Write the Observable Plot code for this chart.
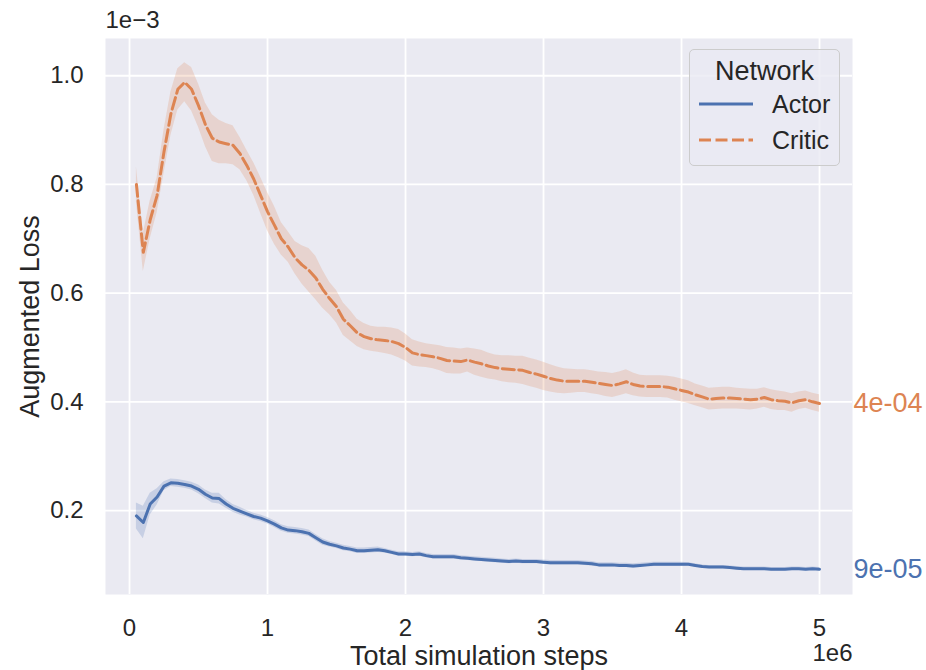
<!DOCTYPE html>
<html>
<head>
<meta charset="utf-8">
<script src="https://cdn.jsdelivr.net/npm/d3@7"></script>
<script src="https://cdn.jsdelivr.net/npm/@observablehq/plot@0.6"></script>
<style>
  body { margin: 0; background: #fff; }
  #wrap { position: relative; width: 926px; height: 670px; overflow: hidden; font-family: "Liberation Sans", Arial, sans-serif; }
  #legend { position: absolute; left: 689px; top: 49px; width: 149px; height: 115px;
    background: rgba(234,234,242,0.8); border: 1px solid #cccccc; border-radius: 5px; color: #262626; }
  #legend .title { text-align: center; font-size: 27px; line-height: 30px; margin-top: 6px; }
  #legend .row { display: flex; align-items: center; height: 36px; font-size: 25px; }
  #legend .row:first-of-type { margin-top: 3px; }
  #legend .row svg { margin-left: 8px; margin-right: 18px; }
</style>
</head>
<body>
<div id="wrap"><div id="chart"></div><div id="legend"></div></div>
<script>
// x in units of 1e6 simulation steps
const steps = [0.05,0.10,0.15,0.20,0.25,0.30,0.35,0.40,0.45,0.50,0.55,0.60,0.65,0.70,0.75,0.80,0.85,0.90,0.95,1.00,
  1.05,1.10,1.15,1.20,1.25,1.30,1.35,1.40,1.45,1.50,1.55,1.60,1.65,1.70,1.75,1.80,1.85,1.90,1.95,2.00,
  2.05,2.10,2.15,2.20,2.25,2.30,2.35,2.40,2.45,2.50,2.55,2.60,2.65,2.70,2.75,2.80,2.85,2.90,2.95,3.00,
  3.05,3.10,3.15,3.20,3.25,3.30,3.35,3.40,3.45,3.50,3.55,3.60,3.65,3.70,3.75,3.80,3.85,3.90,3.95,4.00,
  4.05,4.10,4.15,4.20,4.25,4.30,4.35,4.40,4.45,4.50,4.55,4.60,4.65,4.70,4.75,4.80,4.85,4.90,4.95,5.00];

// loss in units of 1e-3
const critic = [0.800,0.675,0.735,0.780,0.860,0.930,0.975,0.988,0.975,0.945,0.910,0.885,0.878,0.875,0.872,0.857,0.835,0.810,0.780,0.750,
  0.725,0.700,0.685,0.665,0.652,0.642,0.628,0.607,0.590,0.575,0.552,0.540,0.527,0.520,0.516,0.514,0.513,0.511,0.507,0.500,
  0.490,0.487,0.485,0.483,0.480,0.476,0.475,0.474,0.477,0.473,0.470,0.466,0.463,0.461,0.460,0.459,0.458,0.454,0.451,0.447,
  0.443,0.440,0.438,0.438,0.438,0.438,0.436,0.434,0.432,0.430,0.433,0.437,0.432,0.429,0.428,0.428,0.428,0.427,0.424,0.421,
  0.418,0.413,0.409,0.405,0.406,0.407,0.407,0.406,0.405,0.404,0.405,0.408,0.404,0.402,0.401,0.398,0.402,0.404,0.400,0.397];
const criticCI = [0.032,0.035,0.035,0.032,0.040,0.040,0.038,0.036,0.040,0.040,0.040,0.043,0.040,0.037,0.036,0.030,0.028,0.030,0.033,0.035,
  0.035,0.030,0.028,0.030,0.035,0.040,0.040,0.035,0.030,0.030,0.030,0.028,0.025,0.024,0.023,0.023,0.024,0.025,0.026,0.025,
  0.024,0.023,0.022,0.022,0.023,0.024,0.024,0.023,0.022,0.024,0.025,0.024,0.023,0.024,0.025,0.025,0.026,0.026,0.026,0.026,
  0.025,0.024,0.023,0.022,0.021,0.021,0.021,0.021,0.022,0.022,0.022,0.022,0.021,0.020,0.020,0.020,0.020,0.020,0.021,0.021,
  0.021,0.020,0.020,0.020,0.020,0.020,0.020,0.019,0.019,0.019,0.018,0.018,0.018,0.018,0.017,0.017,0.016,0.016,0.016,0.016];
const actor = [0.190,0.178,0.212,0.225,0.245,0.251,0.250,0.248,0.245,0.239,0.230,0.223,0.222,0.212,0.204,0.199,0.194,0.189,0.186,0.181,
  0.175,0.168,0.164,0.163,0.161,0.158,0.150,0.142,0.138,0.135,0.131,0.129,0.126,0.126,0.127,0.128,0.126,0.123,0.120,0.120,
  0.119,0.120,0.117,0.115,0.115,0.115,0.115,0.113,0.112,0.111,0.110,0.109,0.108,0.107,0.106,0.107,0.106,0.106,0.106,0.105,
  0.104,0.104,0.104,0.104,0.104,0.103,0.102,0.100,0.100,0.100,0.099,0.099,0.098,0.099,0.100,0.101,0.101,0.101,0.101,0.101,
  0.101,0.099,0.097,0.096,0.096,0.096,0.095,0.094,0.093,0.093,0.093,0.093,0.092,0.092,0.092,0.093,0.093,0.092,0.093,0.092];
const actorCI = [0.024,0.030,0.020,0.015,0.008,0.007,0.007,0.007,0.007,0.008,0.008,0.009,0.010,0.008,0.007,0.007,0.006,0.006,0.006,0.006,
  0.006,0.006,0.006,0.006,0.006,0.006,0.006,0.006,0.005,0.005,0.005,0.005,0.005,0.005,0.005,0.005,0.004,0.004,0.004,0.004,
  0.004,0.004,0.004,0.004,0.004,0.004,0.004,0.004,0.004,0.004,0.004,0.004,0.004,0.004,0.004,0.004,0.004,0.004,0.004,0.004,
  0.004,0.004,0.004,0.004,0.004,0.004,0.004,0.004,0.004,0.004,0.004,0.004,0.004,0.004,0.004,0.004,0.004,0.004,0.004,0.004,
  0.003,0.003,0.003,0.003,0.003,0.003,0.003,0.003,0.003,0.003,0.003,0.003,0.003,0.003,0.003,0.003,0.003,0.003,0.003,0.003];

const seriesNames = ["Actor", "Critic"];
const seriesColors = ["#4C72B0", "#DD8452"];
const endLabels = ["9e-05", "4e-04"];
const xTicks = [0, 1, 2, 3, 4, 5];
const yTicks = [0.2, 0.4, 0.6, 0.8, 1.0];
const xTitle = "Total simulation steps";
const yTitle = "Augmented Loss";
const xOffsetText = "1e6";
const yOffsetText = "1e\u22123";

const rows = [];
steps.forEach((s, i) => {
  rows.push({x: s, y: actor[i], lo: actor[i] - actorCI[i], hi: actor[i] + actorCI[i], net: "Actor"});
  rows.push({x: s, y: critic[i], lo: critic[i] - criticCI[i], hi: critic[i] + criticCI[i], net: "Critic"});
});
const ends = [
  {x: steps[steps.length - 1], y: actor[actor.length - 1], label: endLabels[0], net: "Actor"},
  {x: steps[steps.length - 1], y: critic[critic.length - 1], label: endLabels[1], net: "Critic"}
];
const col = {domain: seriesNames, range: seriesColors};
const dash = "12,4.5";
const lw = 3;

const chart = Plot.plot({
  width: 926, height: 670,
  marginLeft: 105, marginRight: 74, marginTop: 38, marginBottom: 76,
  style: {fontFamily: '"Liberation Sans", Arial, sans-serif', background: "#fff", color: "#262626"},
  x: {domain: [-0.174, 5.239]},
  y: {domain: [0.0455, 1.0685]},
  color: col,
  marks: [
    Plot.frame({fill: "#EAEAF2", stroke: null}),
    Plot.gridX(xTicks, {stroke: "#fff", strokeOpacity: 1, strokeWidth: 1.8}),
    Plot.gridY(yTicks, {stroke: "#fff", strokeOpacity: 1, strokeWidth: 1.8}),
    Plot.axisX(xTicks, {tickSize: 0, tickPadding: 24, fontSize: 24, tickFormat: d3.format("d"), label: null}),
    Plot.axisY(yTicks, {tickSize: 0, tickPadding: 22, fontSize: 24, tickFormat: d3.format(".1f"), label: null}),
    Plot.text([xTitle], {frameAnchor: "bottom", textAnchor: "middle", lineAnchor: "middle", dy: 62, fontSize: 27, fill: "#262626"}),
    Plot.text([yTitle], {frameAnchor: "left", textAnchor: "middle", lineAnchor: "middle", rotate: -90, dx: -75, fontSize: 27, fill: "#262626"}),
    Plot.areaY(rows, {x: "x", y1: "lo", y2: "hi", z: "net", fill: "net", fillOpacity: 0.22}),
    Plot.line(rows.filter(d => d.net === "Actor"), {x: "x", y: "y", stroke: "net", strokeWidth: lw}),
    Plot.line(rows.filter(d => d.net === "Critic"), {x: "x", y: "y", stroke: "net", strokeWidth: lw, strokeDasharray: dash}),
    Plot.text(ends, {x: "x", y: "y", text: "label", fill: "net", textAnchor: "start", dx: 34, fontSize: 27}),
    Plot.text([yOffsetText], {frameAnchor: "top-left", textAnchor: "start", lineAnchor: "middle", dy: -18, fontSize: 24, fill: "#262626"}),
    Plot.text([xOffsetText], {frameAnchor: "bottom-right", textAnchor: "end", lineAnchor: "middle", dy: 59, fontSize: 24, fill: "#262626"})
  ]
});
document.getElementById("chart").appendChild(chart);

// legend
const lg = document.getElementById("legend");
lg.innerHTML = '<div class="title">Network</div>' + seriesNames.map((n, i) =>
  `<div class="row"><svg width="56" height="10"><line x1="1" x2="55" y1="5" y2="5" stroke="${seriesColors[i]}" stroke-width="${lw}" ${i === 1 ? `stroke-dasharray="${dash}"` : ''}/></svg><span>${n}</span></div>`
).join("");
</script>
</body>
</html>
